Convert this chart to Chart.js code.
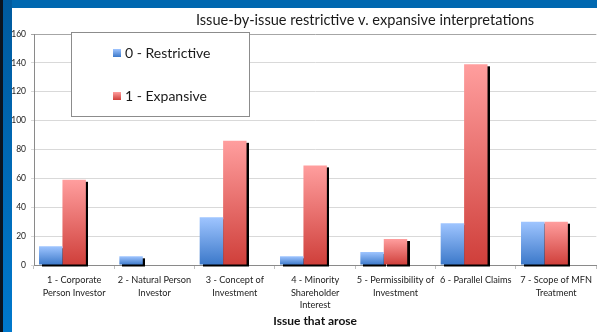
<!DOCTYPE html>
<html>
<head>
<meta charset="utf-8">
<script src="https://cdn.jsdelivr.net/npm/chart.js@4.4.1/dist/chart.umd.min.js"></script>
<style>
  html, body { margin: 0; padding: 0; }
  body { width: 597px; height: 332px; position: relative; overflow: hidden; background: #0068b0; }
  /* 左侧深色边条 */
  .edge { position: absolute; left: 0; top: 0; width: 12px; height: 332px;
    background: linear-gradient(to right, #0b1420 0, #0b1420 3px, transparent 3px),
                linear-gradient(to bottom, #005a9e, #0078cc); }
  .box { position: absolute; left: 12px; top: 8px; width: 585px; height: 324px; background: #fff; }
</style>
</head>
<body>
<div class="edge"></div>
<div class="box"><canvas id="issueChart"></canvas></div>
<script>
// 数据
const categories = [
  ['1 - Corporate', 'Person Investor'],
  ['2 - Natural Person', 'Investor'],
  ['3 - Concept of', 'Investment'],
  ['4 - Minority', 'Shareholder', 'Interest'],
  ['5 - Permissibility of', 'Investment'],
  ['6 - Parallel Claims'],
  ['7 - Scope of MFN', 'Treatment']
];
const restrictive = [13, 6, 33, 6, 9, 29, 30];
const expansive = [59, 0, 86, 69, 18, 139, 30];
const yTicks = [0, 20, 40, 60, 80, 100, 120, 140, 160];

const chartTitle = 'Issue-by-issue restrictive v. expansive interpretations';
const xTitle = 'Issue that arose';
const fontFamily = 'Lato, "Open Sans", sans-serif';

// 颜色（上浅下深）
const blueStops = ['#9fc5ff', '#3b78c9'];
const redStops = ['#ff9e9e', '#cf3f3a'];

/**
 * 每根柱子单独的竖向渐变
 */
function barGradient(stops) {
  return function (ctx) {
    const chart = ctx.chart;
    if (!chart.chartArea || ctx.raw == null) return stops[1];
    const y = chart.scales.y;
    const top = y.getPixelForValue(ctx.raw);
    const bottom = y.getPixelForValue(0);
    if (bottom - top < 1) return stops[1];
    const g = chart.ctx.createLinearGradient(0, top, 0, bottom);
    g.addColorStop(0, stops[0]);
    g.addColorStop(1, stops[1]);
    return g;
  };
}

/**
 * 柱子黑色阴影：先画所有阴影，再画柱子
 */
const barShadow = {
  id: 'barShadow',
  beforeDatasetsDraw(chart) {
    const c = chart.ctx;
    c.save();
    c.fillStyle = '#000';
    chart.data.datasets.forEach((d, i) => {
      if (!d.label) return;
      chart.getDatasetMeta(i).data.forEach(el => {
        const p = el.getProps(['x', 'y', 'base', 'width'], true);
        const h = p.base - p.y;
        if (h < 1) return;
        c.fillRect(Math.round(p.x - p.width / 2) + 3, p.y + 2, Math.round(p.width), h);
      });
    });
    c.restore();
  }
};

/**
 * 标题和图例框（自定义位置）
 */
const overlay = {
  id: 'overlay',
  afterDraw(chart) {
    const c = chart.ctx;
    c.save();
    c.shadowColor = 'rgba(0,0,0,0)';
    // 标题
    c.fillStyle = '#1a1a1a';
    c.font = '14.6px ' + fontFamily;
    c.textAlign = 'center';
    c.textBaseline = 'middle';
    c.fillText(chartTitle, 353, 12);

    // 图例框
    c.fillStyle = '#fff';
    c.fillRect(59, 24, 178, 84);
    c.strokeStyle = '#8c8c8c';
    c.lineWidth = 1;
    c.strokeRect(59.5, 24.5, 178, 84);

    const items = chart.data.datasets.filter(d => d.label);
    const rows = [45, 88];
    items.forEach((d, i) => {
      const y = rows[i];
      const g = c.createLinearGradient(0, y - 4, 0, y + 4);
      g.addColorStop(0, d.stops[0]);
      g.addColorStop(1, d.stops[1]);
      c.fillStyle = g;
      c.fillRect(101, y - 4, 8, 8);
      c.fillStyle = '#1a1a1a';
      c.font = '14px ' + fontFamily;
      c.textAlign = 'left';
      c.fillText(d.label, 113, y);
    });
    c.restore();
  }
};

function renderIssueChart() {
  const ctx = document.getElementById('issueChart');

  new Chart(ctx, {
    type: 'bar',
    data: {
      labels: categories,
      datasets: [
        {
          label: '0 - Restrictive',
          data: restrictive,
          stops: blueStops,
          backgroundColor: barGradient(blueStops)
        },
        {
          label: '1 - Expansive',
          data: expansive,
          stops: redStops,
          backgroundColor: barGradient(redStops)
        },
        {
          // 占位，让两根柱子偏左
          label: '',
          data: categories.map(() => null),
          stops: blueStops,
          backgroundColor: 'rgba(0,0,0,0)'
        }
      ]
    },
    options: {
      responsive: true,
      maintainAspectRatio: false,
      animation: false,
      layout: { padding: { top: 26, right: 0, left: 0, bottom: 0 } },
      datasets: {
        bar: { categoryPercentage: 0.875, barPercentage: 1, borderWidth: 0 }
      },
      plugins: {
        legend: { display: false },
        title: { display: false },
        tooltip: { enabled: false }
      },
      scales: {
        x: {
          afterFit(scale) { scale.height = 67; },
          grid: {
            offset: true,
            drawOnChartArea: false,
            drawTicks: true,
            tickLength: 4,
            color: '#c0c0c0'
          },
          border: { color: '#8a8a8a' },
          ticks: {
            autoSkip: false,
            maxRotation: 0,
            minRotation: 0,
            padding: 5,
            color: '#222',
            font: { family: fontFamily, size: 9.2, lineHeight: 1.35 }
          },
          title: {
            display: true,
            text: xTitle,
            color: '#111',
            padding: { top: 2, bottom: 4 },
            font: { family: fontFamily, size: 12, weight: 'bold' }
          }
        },
        y: {
          min: 0,
          max: 160,
          afterFit(scale) { scale.width = 22; },
          afterBuildTicks(scale) {
            scale.ticks = yTicks.map(v => ({ value: v }));
          },
          grid: {
            tickLength: 3,
            color: c => (c.tick && c.tick.value === 160 ? '#a6a6a6' : '#d9d9d9')
          },
          border: { color: '#8a8a8a' },
          ticks: {
            padding: 5,
            color: '#222',
            font: { family: fontFamily, size: 8.5 }
          }
        }
      }
    },
    plugins: [barShadow, overlay]
  });
}

renderIssueChart();
</script>
</body>
</html>
